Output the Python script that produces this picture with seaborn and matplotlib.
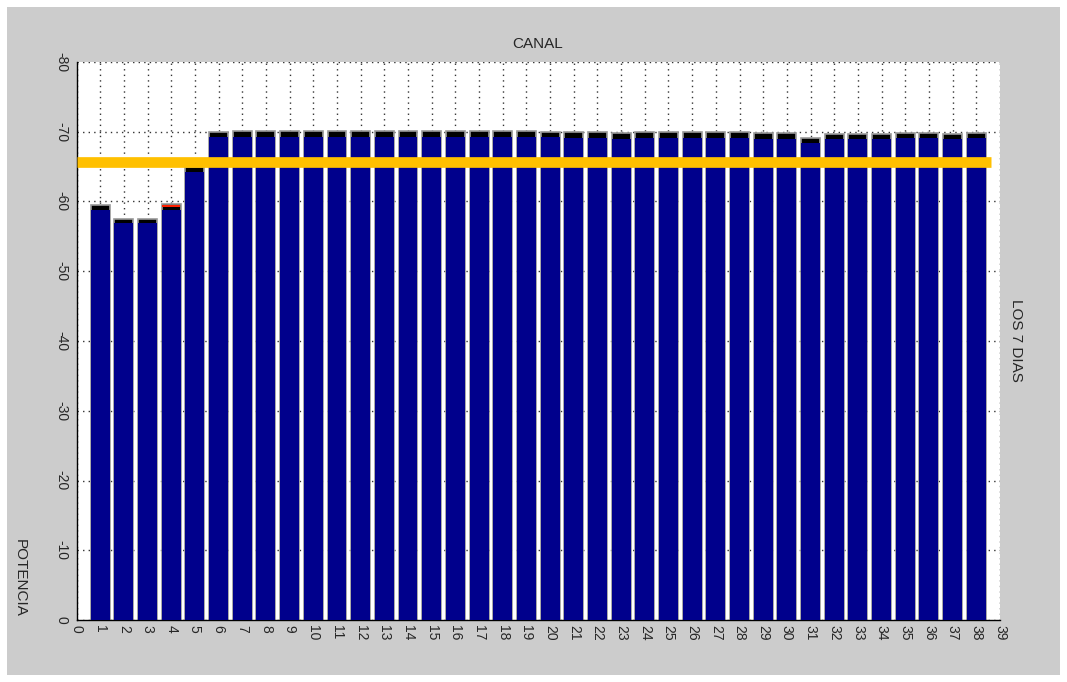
import matplotlib
matplotlib.use("Agg")
import matplotlib.pyplot as plt
import seaborn as sns
import pandas as pd
from matplotlib.patches import Rectangle

# ---- data ----
canal = list(range(1, 39))
pot_max = [59.5, 57.5, 57.5, 59.6, 64.9, 70.0, 70.1, 70.1, 70.1, 70.1,
           70.1, 70.1, 70.1, 70.1, 70.1, 70.1, 70.1, 70.1, 70.1, 70.0,
           69.9, 69.9, 69.8, 69.9, 69.9, 69.9, 69.9, 69.9, 69.8, 69.8,
           69.1, 69.7, 69.7, 69.7, 69.8, 69.8, 69.7, 69.8]
pot_min = [58.8, 56.9, 56.9, 58.8, 64.2, 69.2, 69.3, 69.3, 69.3, 69.3,
           69.3, 69.3, 69.3, 69.3, 69.3, 69.3, 69.3, 69.3, 69.3, 69.3,
           69.1, 69.1, 68.9, 69.1, 69.1, 69.1, 69.1, 69.1, 69.0, 69.0,
           68.4, 68.9, 68.9, 68.9, 69.1, 69.1, 68.9, 69.1]
red_canal = [4]
red_val = [59.5]
umbral = 65.7
umbral_end = 38.6
xticks = list(range(0, 40))
yticks = [0, -10, -20, -30, -40, -50, -60, -70, -80]

sns.set_style("white")
plt.rcParams['font.family'] = ['Liberation Sans', 'DejaVu Sans']
plt.rcParams['axes.unicode_minus'] = False

W, H = 1067, 682
fig = plt.figure(figsize=(W / 100, H / 100), dpi=100, facecolor='white')
fig.patches.append(Rectangle((7 / W, 7 / H), (1060 - 7) / W, (675 - 7) / H,
                             transform=fig.transFigure, facecolor='#cccccc',
                             edgecolor='none', zorder=-10))
ax = fig.add_axes([76.5 / W, 1 - 620 / H, (1000 - 76.5) / W, (620 - 62) / H])
ax.set_facecolor('white')

df = pd.DataFrame({'canal': canal,
                   'max': [-v for v in pot_max],
                   'min': [-v for v in pot_min]})

sns.barplot(data=df, x='canal', y='max', native_scale=True, width=0.8,
            color='black', saturation=1, edgecolor='#9a9a9a', linewidth=1.2,
            errorbar=None, ax=ax, zorder=2)
sns.barplot(data=df, x='canal', y='min', native_scale=True, width=0.8,
            color='#00008c', saturation=1, linewidth=0,
            errorbar=None, ax=ax, zorder=3)
ax.bar(red_canal, [0.3] * len(red_canal), bottom=[-v for v in red_val],
       width=0.74, color='#ff2000', linewidth=0, zorder=4)

ax.hlines(-umbral, 0, umbral_end, color='#ffc000', linewidth=7.7,
          zorder=5, capstyle='butt')

ax.set_xlim(0, 39)
ax.set_ylim(0, -80)
ax.set_xticks(xticks)
ax.set_xticklabels([str(t) for t in xticks], rotation=-90, ha='center', va='top',
                   fontsize=10)
ax.set_yticks(yticks)
ax.set_yticklabels([str(t) for t in yticks], rotation=-90, ha='right', va='center',
                   fontsize=10)
ax.set_xlabel('')
ax.set_ylabel('')

ax.tick_params(axis='both', direction='in', length=6.5, width=1, color='black')
ax.tick_params(axis='y', pad=6)
ax.tick_params(axis='x', pad=3.5)

ax.grid(True, linestyle=(0, (1, 3)), color='#333333', linewidth=1.0)
ax.set_axisbelow(True)
for s in ['top', 'right']:
    ax.spines[s].set_visible(False)
for s in ['left', 'bottom']:
    ax.spines[s].set_color('black')
    ax.spines[s].set_linewidth(1)

fig.text(537.5 / W, 1 - 44 / H, 'CANAL', ha='center', va='center', fontsize=11)
fig.text(1016 / W, 1 - 340 / H, 'LOS 7 DIAS', ha='center', va='center',
         rotation=-90, fontsize=11)
fig.text(20 / W, 1 - 617 / H, 'POTENCIA', ha='center', va='bottom',
         rotation=-90, fontsize=11)

fig.savefig('out.png', dpi=100, facecolor=fig.get_facecolor())
